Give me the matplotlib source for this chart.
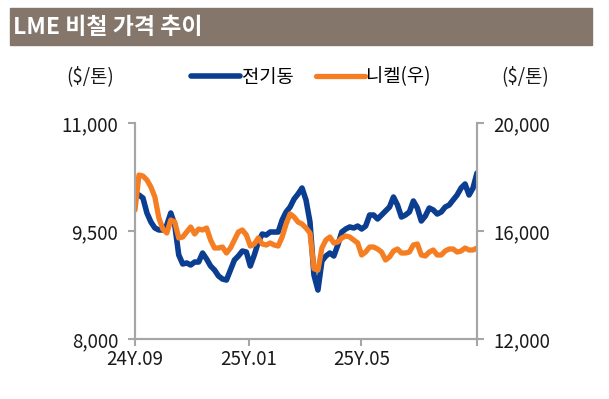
#coding: utf-8
import matplotlib
matplotlib.use("Agg")
import matplotlib.pyplot as plt
from matplotlib.patches import Rectangle
import pandas as pd

plt.rcParams['font.family'] = ['Noto Sans CJK KR', 'DejaVu Sans']
plt.rcParams['axes.unicode_minus'] = False

# 전기동 ($/톤, 좌축) / 니켈 ($/톤, 우축), 24.09 ~ 25.09 대략 4일 간격
copper = [10028, 10000, 9958, 9750, 9625, 9542, 9514, 9514, 9583, 9750,
          9583, 9167, 9042, 9056, 9028, 9069, 9069, 9194, 9111, 9014,
          8958, 8875, 8833, 8819, 8958, 9097, 9153, 9222, 9208, 9014,
          9167, 9347, 9458, 9444, 9486, 9486, 9486, 9653, 9764, 9833,
          9944, 10014, 10097, 9931, 9625, 8889, 8680, 9083, 9153, 9194,
          9153, 9306, 9486, 9528, 9556, 9542, 9569, 9528, 9569, 9722,
          9722, 9667, 9722, 9778, 9833, 9972, 9861, 9694, 9722, 9764,
          9917, 9819, 9639, 9708, 9819, 9792, 9736, 9764, 9833, 9861,
          9931, 10000, 10097, 10153, 10000, 10097, 10306]
nickel = [16778, 18074, 18037, 17889, 17630, 17259, 16481, 16074, 15926, 16407,
          16333, 15741, 15778, 15963, 16148, 15889, 16074, 16037, 16111, 15667,
          15370, 15370, 15407, 15185, 15370, 15667, 15963, 16037, 15852, 15444,
          15519, 15741, 15519, 15481, 15556, 15481, 15444, 15778, 16259, 16630,
          16519, 16333, 16259, 16111, 15926, 14600, 14550, 15370, 15667, 15778,
          15556, 15593, 15741, 15815, 15778, 15667, 15556, 15111, 15222, 15407,
          15407, 15333, 15222, 14926, 15037, 15259, 15333, 15185, 15185, 15222,
          15481, 15519, 15111, 15074, 15222, 15296, 15111, 15111, 15259, 15333,
          15333, 15222, 15259, 15370, 15296, 15296, 15370]
dates = pd.date_range("2024-09-02", "2025-09-01", periods=len(copper))

tick_dates = ["2024-09-02", "2025-01-01", "2025-05-01", "2025-09-01"]
tick_labels = ["24Y.09", "25Y.01", "25Y.05", ""]

title = "LME 비철 가격 추이"
blue = "#0B3D91"
orange = "#F57E23"
grey = "#A6A6A6"
txt = "#1A1A1A"

fig = plt.figure(figsize=(6.09, 3.99), dpi=100)

# 제목 바
fig.patches.append(Rectangle((10/609, 1-45/399), 582/609, 37/399,
                             transform=fig.transFigure, color="#85766B", zorder=0))
fig.text(13/609, 1-27/399, title, color="white", fontsize=16.5,
         fontweight="bold", va="center", ha="left")

ax = fig.add_axes([135/609, 1-339/399, 342/609, 216/399])
ax2 = ax.twinx()

l1, = ax.plot(dates, copper, color=blue, linewidth=4.0, label="전기동",
              solid_capstyle="round", solid_joinstyle="round")
l2, = ax2.plot(dates, nickel, color=orange, linewidth=3.8, label="니켈(우)",
               solid_capstyle="round", solid_joinstyle="round")

ax.set_xlim(dates[0], dates[-1])
ax.set_ylim(8000, 11000)
ax.set_yticks([8000, 9500, 11000])
ax.set_yticklabels(["8,000", "9,500", "11,000"])
ax2.set_ylim(12000, 20000)
ax2.set_yticks([12000, 16000, 20000])
ax2.set_yticklabels(["12,000", "16,000", "20,000"])
ax.set_xticks(pd.to_datetime(tick_dates))
ax.set_xticklabels(tick_labels)

for a in (ax, ax2):
    a.spines["top"].set_visible(False)
    for s in ("left", "right", "bottom"):
        a.spines[s].set_color(grey)
        a.spines[s].set_linewidth(1.5)
    a.tick_params(colors=grey, width=1.5, length=5, labelcolor=txt,
                  labelsize=13.5)
ax.tick_params(axis="y", pad=7)
ax2.tick_params(axis="y", pad=7)
ax.tick_params(axis="x", pad=2)

fig.text(90/609, 1-77/399, "($/톤)", fontsize=13.5, ha="center", va="center", color=txt)
fig.text(525/609, 1-77/399, "($/톤)", fontsize=13.5, ha="center", va="center", color=txt)

fig.legend(handles=[l1, l2], loc="center", bbox_to_anchor=(311/609, 1-77/399),
           ncol=2, frameon=False, fontsize=13.5, handlelength=2.6,
           handletextpad=0.1, columnspacing=1.2)

fig.savefig("out.png", dpi=100)
